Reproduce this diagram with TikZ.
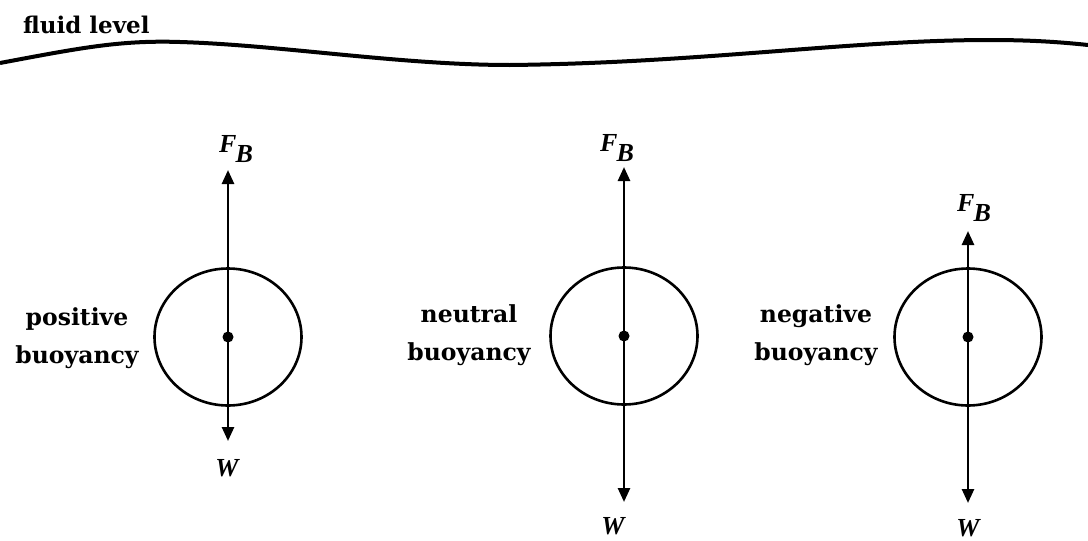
\documentclass[tikz,border=0pt]{standalone}
\usepackage{fontspec}
\setmainfont{DejaVu Serif}
\newfontfamily\symfont{Liberation Serif}
\usetikzlibrary{arrows.meta,shapes.geometric}
\newcommand{\fbsym}{F\kern-1pt\raisebox{-0.36em}{B}}

\begin{document}
\begin{tikzpicture}[x=1pt,y=-1pt,
    body/.style={draw, line width=2.6pt, ellipse, minimum width=147pt, minimum height=137pt},
    force/.style={line width=2.6pt, -{Triangle[width=12pt,length=14pt]}},
    state/.style={font=\bfseries\fontsize{23.5}{38}\selectfont, align=center},
    sym/.style={font=\symfont\bfseries\itshape\fontsize{26}{26}\selectfont, inner sep=0pt}]
                \useasboundingbox (0,0) rectangle (1088,541);

                % Fluid level
                \node[anchor=base west, inner sep=0pt, font=\bfseries\fontsize{23}{23}\selectfont] (fluid) at (23,33) {fluid level};
                \draw[line width=4pt] (0,63) .. controls (80,48) and (120,40) .. (180,42)
                    .. controls (280,45) and (400,65) .. (510,65)
                    .. controls (700,63) and (850,40) .. (990,40)
                    .. controls (1030,40) and (1060,42) .. (1088,45);

                % Bodies
                \node[body] (b1) at (228,337) {};
                \node[body] (b2) at (624,336) {};
                \node[body] (b3) at (968,337) {};

                % Arrow ends
                \coordinate (up1) at (228,170);
                \coordinate (dn1) at (228,441);
                \coordinate (up2) at (624,167);
                \coordinate (dn2) at (624,502);
                \coordinate (up3) at (968,231);
                \coordinate (dn3) at (968,503);

                % Forces
                \draw[force] (b1.center) -- (up1);
                \draw[force] (b1.center) -- (dn1);
                \draw[force] (b2.center) -- (up2);
                \draw[force] (b2.center) -- (dn2);
                \draw[force] (b3.center) -- (up3);
                \draw[force] (b3.center) -- (dn3);
                \fill (b1.center) circle (5.5pt);
                \fill (b2.center) circle (5.5pt);
                \fill (b3.center) circle (5.5pt);

                % Force labels
                \node[sym] (fb1) at (236,149) {\fbsym};
                \node[sym] (w1) at (227,468) {W};
                \node[sym] (fb2) at (617,148) {\fbsym};
                \node[sym] (w2) at (613,526) {W};
                \node[sym] (fb3) at (974,208) {\fbsym};
                \node[sym] (w3) at (968,528) {W};

                % Buoyancy labels
                \node[state] (pos) at (77,338) {positive\\buoyancy};
                \node[state] (neu) at (469,335) {neutral\\buoyancy};
                \node[state] (neg) at (816,335) {negative\\buoyancy};
\end{tikzpicture}
\end{document}
